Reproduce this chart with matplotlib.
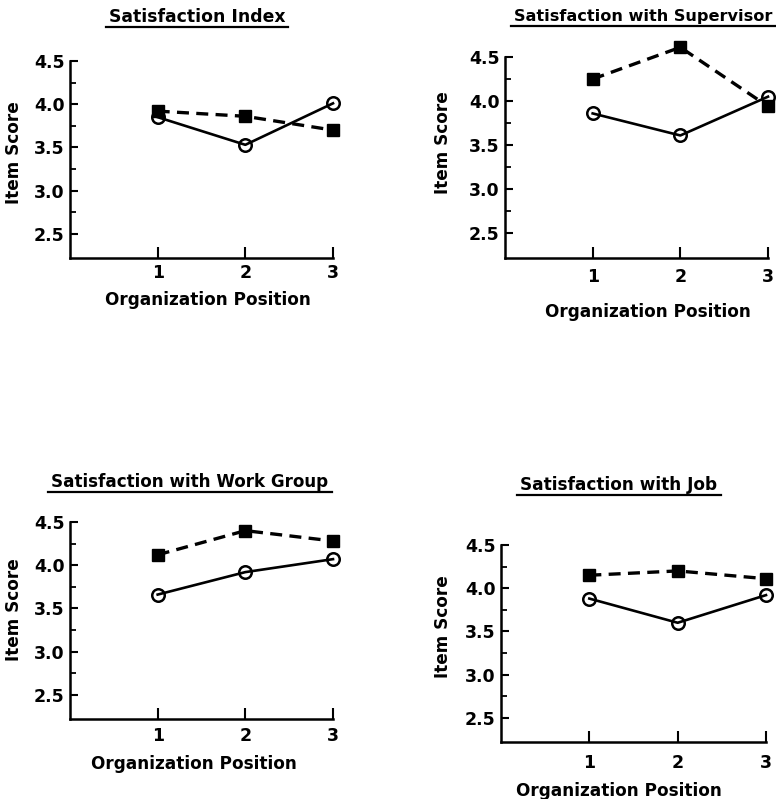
import matplotlib
matplotlib.use("Agg")
import matplotlib.pyplot as plt
from matplotlib.lines import Line2D
from matplotlib.ticker import FixedLocator

plt.rcParams['font.family'] = ['DejaVu Sans']

positions = [1, 2, 3]
titles = ["Satisfaction Index", "Satisfaction with Supervisor",
          "Satisfaction with Work Group", "Satisfaction with Job"]
# solid line, open circles
circle_series = [
    [3.85, 3.53, 4.01],
    [3.86, 3.61, 4.05],
    [3.66, 3.92, 4.07],
    [3.88, 3.60, 3.92],
]
# dashed line, filled squares
square_series = [
    [3.92, 3.86, 3.70],
    [4.25, 4.61, 3.94],
    [4.12, 4.40, 4.28],
    [4.15, 4.20, 4.11],
]
yticks = [2.5, 3.0, 3.5, 4.0, 4.5]
yminor = [2.75, 3.25, 3.75, 4.25]
ytick_labels = ["2.5", "3.0", "3.5", "4.0", "4.5"]
xtick_labels = ["1", "2", "3"]

W, H = 776, 799
fig = plt.figure(figsize=(W / 100, H / 100), dpi=100)

# layout in pixels: left, right, bottom, top of each axes
boxes = [
    (70, 333, 258, 61),
    (505, 768, 258, 57),
    (70, 333, 719, 522),
    (501, 766, 742, 545),
]
# label centres in pixels
ylabel_px = [(14, 153), (443, 143), (14, 610), (443, 627)]
xlabel_px = [(208, 300), (648, 312), (194, 764), (619, 791)]
xtick_pad = [4, 7, 6, 9]
title_px = [(197, 17), (643, 17), (190, 482), (619, 485)]
title_fs = [12.4, 11.6, 12.1, 12.2]

fs_tick = 12.5
fs_label = 12.2

title_texts = []
for i in range(4):
    l, r, b, t = boxes[i]
    ax = fig.add_axes([l / W, 1 - b / H, (r - l) / W, (b - t) / H])
    ax.plot(positions, circle_series[i], color='black', lw=1.9, marker='o',
            markersize=9, markerfacecolor='none', markeredgewidth=1.8,
            clip_on=False, zorder=3)
    ax.plot(positions, square_series[i], color='black', lw=2.4,
            linestyle=(0, (3.6, 2.2)), marker='s', markersize=9,
            markerfacecolor='black', markeredgecolor='black',
            clip_on=False, zorder=3)
    ax.set_xlim(0, 3)
    ax.set_ylim(2.22, 4.5)
    ax.set_xticks(positions)
    ax.set_xticklabels(xtick_labels)
    ax.set_yticks(yticks)
    ax.set_yticklabels(ytick_labels)
    ax.yaxis.set_minor_locator(FixedLocator(yminor))
    for s in ['top', 'right']:
        ax.spines[s].set_visible(False)
    for s in ['left', 'bottom']:
        ax.spines[s].set_linewidth(1.8)
    ax.tick_params(axis='y', which='major', direction='in', length=6,
                   width=1.5, labelsize=fs_tick, pad=4)
    ax.tick_params(axis='y', which='minor', direction='in', length=4,
                   width=1.3)
    ax.tick_params(axis='x', which='major', direction='in', length=8,
                   width=1.5, labelsize=fs_tick, pad=xtick_pad[i])
    for lab in ax.get_xticklabels() + ax.get_yticklabels():
        lab.set_fontweight('bold')
    ax.set_ylabel("Item Score", fontsize=fs_label, fontweight='bold')
    ax.yaxis.label.set_va('center')
    yx, yy = ylabel_px[i]
    ax.yaxis.set_label_coords((yx - l) / (r - l), (b - yy) / (b - t))
    ax.set_xlabel("Organization Position", fontsize=fs_label, fontweight='bold')
    ax.xaxis.label.set_va('center')
    xx, xy = xlabel_px[i]
    ax.xaxis.set_label_coords((xx - l) / (r - l), (b - xy) / (b - t))
    tx, ty = title_px[i]
    tt = fig.text(tx / W, 1 - ty / H, titles[i], fontsize=title_fs[i],
                  fontweight='bold', ha='center', va='center')
    title_texts.append(tt)

fig.canvas.draw()
renderer = fig.canvas.get_renderer()
for tt in title_texts:
    bb = tt.get_window_extent(renderer)
    y = (bb.y0 - 1) / H
    fig.add_artist(Line2D([(bb.x0 - 3) / W, (bb.x1 + 3) / W], [y, y],
                          transform=fig.transFigure, color='black', lw=1.6))

fig.savefig("out.png", dpi=100)
